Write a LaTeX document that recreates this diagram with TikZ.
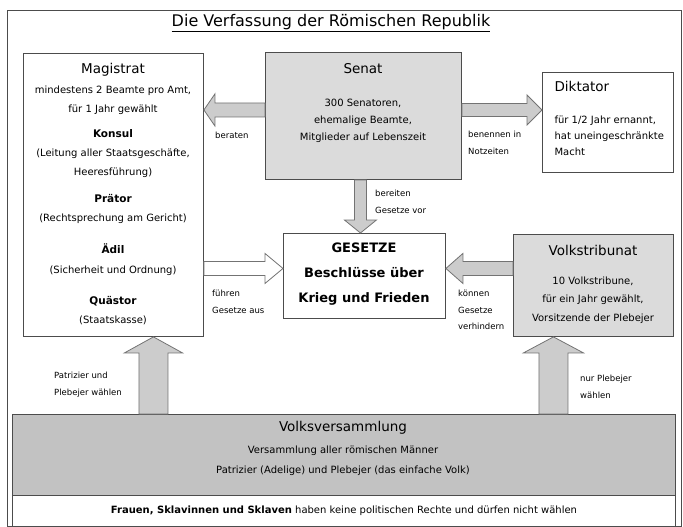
\documentclass[tikz,border=0pt]{standalone}
\usepackage{fontspec}
\setmainfont{DejaVu Sans}
\usetikzlibrary{calc}
\definecolor{linegray}{gray}{0.3}
\definecolor{boxgray}{gray}{0.86}
\definecolor{volkgray}{gray}{0.76}
\definecolor{arrowgray}{gray}{0.80}
\definecolor{arrowline}{gray}{0.45}
\tikzset{
  >=latex,
}
\tikzstyle{frame}=[line width=0.9pt,linegray]
\tikzstyle{box}=[draw=linegray,line width=0.9pt,rectangle,anchor=north west,inner sep=0pt]
\tikzstyle{grey box}=[box,fill=boxgray]
\tikzstyle{blockarrow}=[draw=arrowline,line width=0.8pt,fill=arrowgray,line join=miter]
\tikzstyle{title}=[font=\fontsize{16}{18}\selectfont,anchor=mid]
\tikzstyle{head}=[font=\fontsize{13.5}{15}\selectfont,anchor=mid]
\tikzstyle{amt}=[font=\fontsize{10.5}{12}\selectfont\bfseries,anchor=mid]
\tikzstyle{txt}=[font=\fontsize{10}{12}\selectfont,anchor=mid]
\tikzstyle{law}=[font=\fontsize{13}{15}\selectfont\bfseries,anchor=mid]
\tikzstyle{note}=[font=\fontsize{8.5}{16.5}\selectfont,align=left,anchor=north west,inner sep=0pt]
% Blockpfeil: [Stil]{Start}{Spitze}{Schaft/2}{Kopf/2}{Kopflaenge}
\newcommand{\blockarrow}[6][]{%
  \coordinate (ba-base) at ($(#3)!#6!(#2)$);
  \draw[blockarrow,#1] ($(#2)!#4!90:(#3)$) -- ($(ba-base)!#4!90:(#3)$)
    -- ($(ba-base)!#5!90:(#3)$) -- (#3) -- ($(ba-base)!#5!-90:(#3)$)
    -- ($(ba-base)!#4!-90:(#3)$) -- ($(#2)!#4!-90:(#3)$) -- cycle;
}

\begin{document}
\begin{tikzpicture}[x=1pt,y=-1pt]
  \useasboundingbox (0,0) rectangle (683,527);
  \draw[frame] (7,10) rectangle (681,526);
  \node[title] (titel) at (331,24) {\underline{Die Verfassung der Römischen Republik}};

  % Kaesten
  \node[box,minimum width=180pt,minimum height=283pt] (magistrat) at (23,53) {};
  \node[grey box,minimum width=196pt,minimum height=127pt] (senat) at (265,52) {};
  \node[box,minimum width=131pt,minimum height=100pt] (diktator) at (542,72) {};
  \node[box,minimum width=162pt,minimum height=85pt] (gesetze) at (283,233) {};
  \node[grey box,minimum width=160pt,minimum height=102pt] (tribunat) at (513,234) {};
  \node[box,fill=volkgray,minimum width=663pt,minimum height=81pt] (volk) at (12,414) {};
  \node[box,minimum width=663pt,minimum height=31pt] (hinweis) at (12,495) {};

  % Pfeile
  \coordinate (beraten-a) at ([yshift=6pt]senat.west);
  \coordinate (beraten-b) at (beraten-a -| magistrat.east);
  \blockarrow{beraten-a}{beraten-b}{7pt}{16pt}{11pt}
  \coordinate (benennen-a) at ([yshift=6pt]senat.east);
  \coordinate (benennen-b) at (benennen-a -| diktator.west);
  \blockarrow{benennen-a}{benennen-b}{6.5pt}{15pt}{15pt}
  \coordinate (bereiten-a) at ([xshift=-3pt]senat.south);
  \coordinate (bereiten-b) at (bereiten-a |- gesetze.north);
  \blockarrow{bereiten-a}{bereiten-b}{6pt}{16pt}{13pt}
  \coordinate (fuehren-b) at ([yshift=7.5pt]gesetze.west);
  \coordinate (fuehren-a) at (fuehren-b -| magistrat.east);
  \blockarrow[fill=white]{fuehren-a}{fuehren-b}{7pt}{15pt}{18pt}
  \coordinate (koennen-b) at ([yshift=7.5pt]gesetze.east);
  \coordinate (koennen-a) at (koennen-b -| tribunat.west);
  \blockarrow{koennen-a}{koennen-b}{7pt}{15pt}{17pt}
  \coordinate (patrizier-b) at ([xshift=40pt]magistrat.south);
  \coordinate (patrizier-a) at (patrizier-b |- volk.north);
  \blockarrow{patrizier-a}{patrizier-b}{14.5pt}{29pt}{16pt}
  \coordinate (plebejer-b) at ([xshift=-40pt]tribunat.south);
  \coordinate (plebejer-a) at (plebejer-b |- volk.north);
  \blockarrow{plebejer-a}{plebejer-b}{14.5pt}{30pt}{16pt}

  % Texte
  \foreach \y/\s/\t in {71/head/Magistrat, {91/txt/mindestens 2 Beamte pro Amt,},
      110/txt/für 1 Jahr gewählt, 135/amt/Konsul, {154/txt/(Leitung aller Staatsgeschäfte,},
      173/txt/Heeresführung), 200/amt/Prätor, 219/txt/(Rechtsprechung am Gericht),
      251/amt/Ädil, 271/txt/(Sicherheit und Ordnung), 302/amt/Quästor, 321/txt/(Staatskasse)}
    \node[\s] (mag-\y) at (113,\y) {\t};
  \foreach \y/\s/\t in {71/head/Senat, {104/txt/300 Senatoren,}, {121/txt/ehemalige Beamte,},
      138/txt/Mitglieder auf Lebenszeit}
    \node[\s] (sen-\y) at (363,\y) {\t};
  \foreach \y/\s/\t in {89/head/Diktator, {121/txt/{für 1/2 Jahr ernannt,}},
      137/txt/hat uneingeschränkte, 153/txt/Macht}
    \node[\s,anchor=mid west] (dik-\y) at (551,\y) {\t};
  \foreach \y/\t in {250/GESETZE, 275/Beschlüsse über, 300/Krieg und Frieden}
    \node[law] (ges-\y) at (364,\y) {\t};
  \foreach \y/\s/\t in {253/head/Volkstribunat, {282/txt/10 Volkstribune,},
      {300/txt/für ein Jahr gewählt,}, 319/txt/Vorsitzende der Plebejer}
    \node[\s] (tri-\y) at (593,\y) {\t};
  \foreach \y/\s/\t in {429/head/Volksversammlung, 451/txt/Versammlung aller römischen Männer,
      471/txt/Patrizier (Adelige) und Plebejer (das einfache Volk)}
    \node[\s] (vol-\y) at (343,\y) {\t};
  \node[txt] (frauen) at (hinweis.center) {\textbf{Frauen, Sklavinnen und Sklaven} haben keine politischen Rechte und dürfen nicht wählen};

  % Beschriftungen der Pfeile
  \node[note] (l-beraten) at (215,132) {beraten};
  \node[note] (l-benennen) at (468,131) {benennen in\\Notzeiten};
  \node[note] (l-bereiten) at (375,190) {bereiten\\Gesetze vor};
  \node[note] (l-fuehren) at (212,290) {führen\\Gesetze aus};
  \node[note] (l-koennen) at (458,290) {können\\Gesetze\\verhindern};
  \node[note] (l-patrizier) at (54,372) {Patrizier und\\Plebejer wählen};
  \node[note] (l-plebejer) at (580,375) {nur Plebejer\\wählen};
\end{tikzpicture}
\end{document}
